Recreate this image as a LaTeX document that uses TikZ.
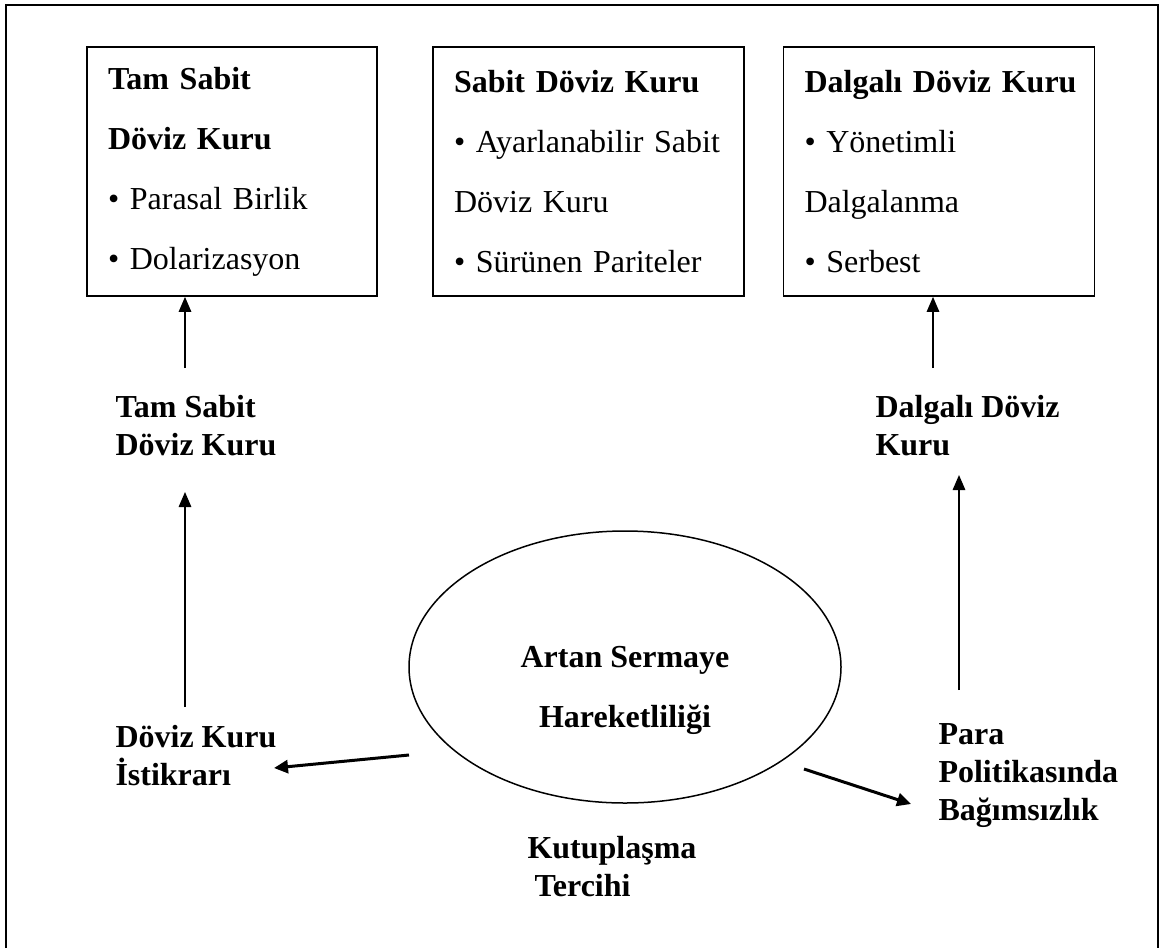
\documentclass[tikz,border=0pt]{standalone}
\usepackage{fontspec}
\setmainfont{Liberation Serif}
\usetikzlibrary{positioning,arrows.meta,shapes.geometric}

\begin{document}
\begin{tikzpicture}[x=0.4pt, y=-0.4pt, inner sep=0pt,
  kutu/.style={draw, line width=0.7pt, minimum height=99.6pt, inner xsep=8.4pt,
    align=left, font=\fontsize{12.8}{24}\selectfont},
  yazi/.style={align=left, font=\fontsize{12.8}{15.2}\selectfont\bfseries},
  ok/.style={line width=0.6pt, -{Triangle[length=6pt, width=5pt]}},
  kalin/.style={line width=1.2pt, -{Triangle[length=5.6pt, width=5.2pt]}}]
\useasboundingbox (0,0) rectangle (1160,948);
% cerceve
\draw[line width=0.9pt] (6,948) -- (6,5) -- (1158,5) -- (1158,948);
% ust kutular
\node[kutu, minimum width=116pt, text width=99.2pt] (tam) at (232,171.5)
  {\textbf{Tam Sabit}\\\textbf{Döviz Kuru}\\• Parasal Birlik\\• Dolarizasyon};
\node[kutu, minimum width=124.4pt, text width=107.6pt] (sabit) at (588.5,171.5)
  {\textbf{Sabit~Döviz~Kuru}\\• Ayarlanabilir~Sabit\\Döviz Kuru\\• Sürünen~Pariteler};
\node[kutu, minimum width=124.4pt, text width=107.6pt] (dalga) at (939,171.5)
  {\textbf{Dalgalı~Döviz~Kuru}\\• Yönetimli\\Dalgalanma\\• Serbest};
% ara etiketler
\node[yazi, anchor=west] (tamlbl) at (115,426) {Tam Sabit\\Döviz Kuru};
\node[yazi, anchor=west] (dalgalbl) at (875,426) {Dalgalı Döviz\\ Kuru};
\node[yazi, anchor=west] (istikrar) at (115,756) {Döviz Kuru\\İstikrarı};
\node[yazi, anchor=west] (para) at (938,776) {Para\\Politikasında\\Bağımsızlık};
\node[yazi, anchor=west] (kutup) at (527,867) {Kutuplaşma\\\hspace{2.8pt}Tercihi};
% orta
\node[draw, ellipse, line width=0.6pt, minimum width=172.8pt, minimum height=108.8pt] (ark) at (625,667) {};
\node[align=center, font=\fontsize{12.8}{24}\selectfont\bfseries] (artan) at (625,690) {Artan Sermaye\\Hareketliliği};
% oklar
\coordinate (a1) at (185,368);
\coordinate (a2) at (185,707);
\coordinate (a3) at (933,368);
\coordinate (a4) at (959,690);
\draw[ok] (a1) -- (a1 |- tam.south);
\draw[ok] (a2) -- (185,492);
\draw[ok] (a3) -- (a3 |- dalga.south);
\draw[ok] (a4) -- (959,475);
\coordinate (s1) at (409,755);
\coordinate (s2) at (804,769);
\draw[kalin] (s1) -- (274,768);
\draw[kalin] (s2) -- (911,804);
\end{tikzpicture}
\end{document}
